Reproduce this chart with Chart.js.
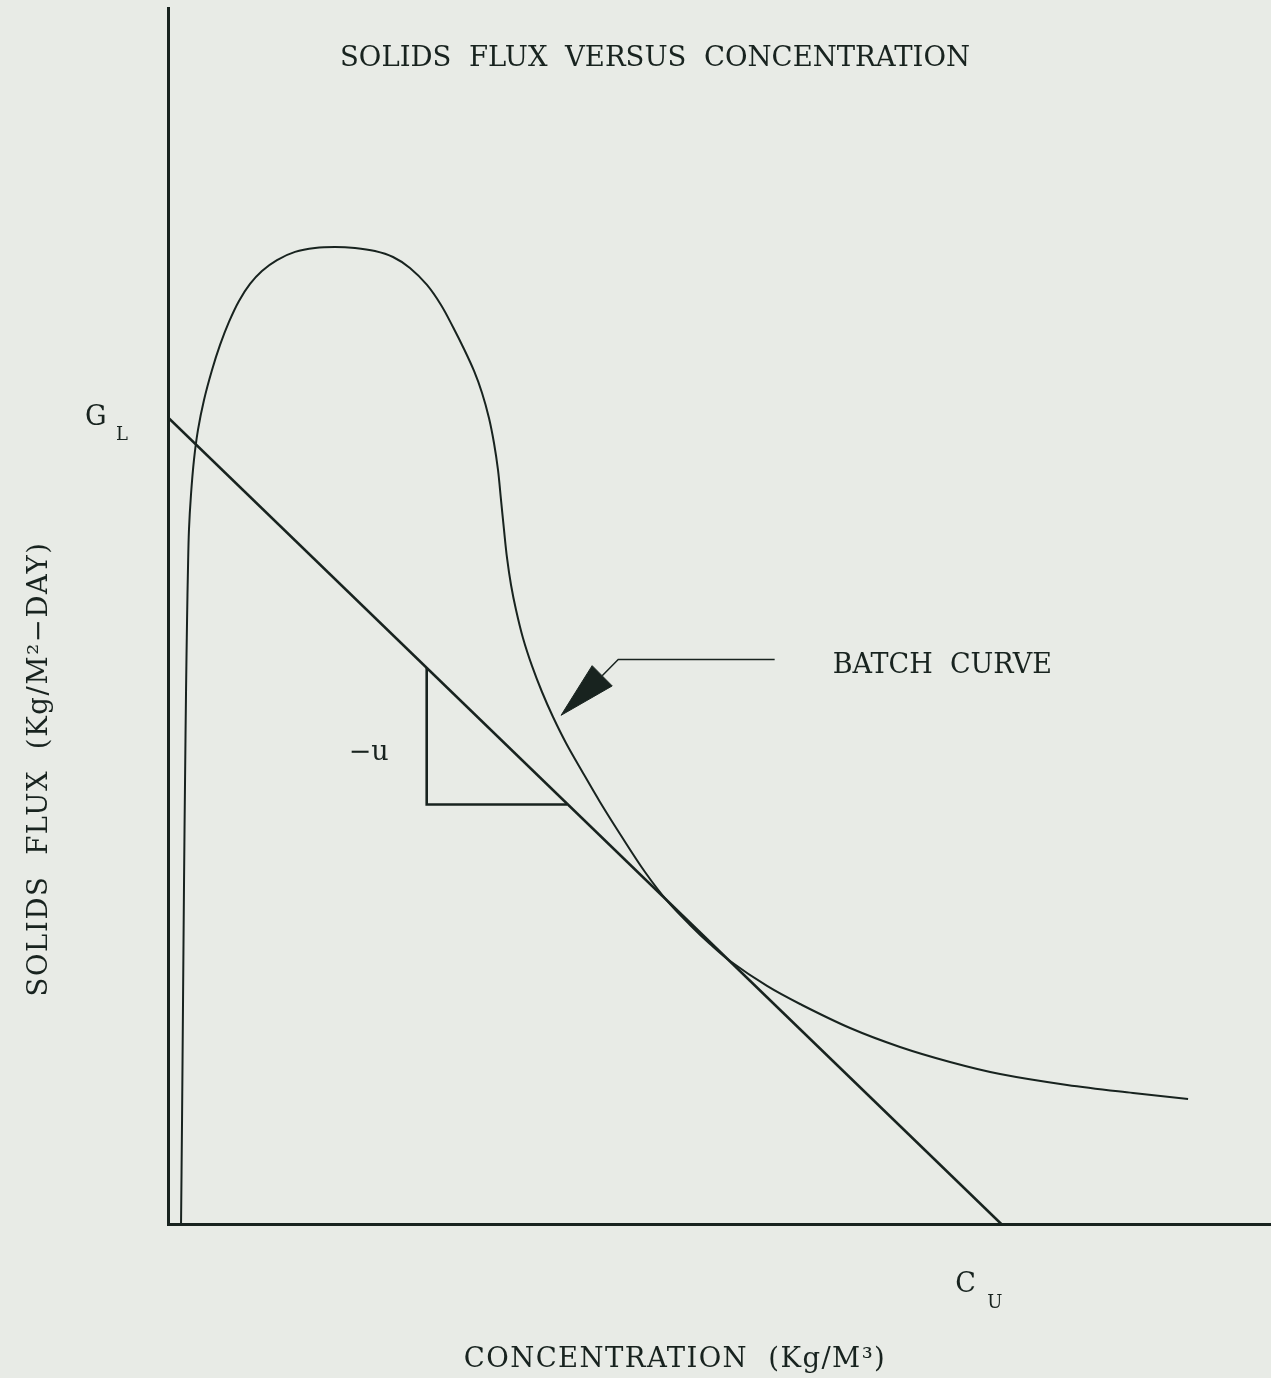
<!DOCTYPE html>
<html>
<head>
<meta charset="utf-8">
<script src="https://cdn.jsdelivr.net/npm/chart.js@4.4.0/dist/chart.umd.min.js"></script>
<style>
  html, body { margin: 0; padding: 0; background: #e8ebe6; }
  #wrap { width: 1271px; height: 1378px; }
</style>
</head>
<body>
<div id="wrap"><canvas id="fluxChart"></canvas></div>
<script>
// batch settling curve (concentration, solids flux)
const concentration = [0.130, 0.140, 0.150, 0.160, 0.170, 0.180, 0.190, 0.199, 0.209, 0.229, 0.259, 0.299, 0.359, 0.439, 0.519, 0.608, 0.708, 0.818, 0.937, 1.087, 1.267, 1.466, 1.666, 1.865, 2.064, 2.244, 2.413, 2.583, 2.723, 2.842, 2.952, 3.052, 3.132, 3.201, 3.251, 3.291, 3.321, 3.351, 3.381, 3.421, 3.471, 3.540, 3.630, 3.730, 3.840, 3.969, 4.139, 4.308, 4.508, 4.757, 4.987, 5.206, 5.405, 5.605, 5.974, 6.303, 6.802, 7.300, 7.799, 8.298, 8.966, 9.624, 10.173];
const batchFlux     = [0.000, 1.026, 2.211, 3.395, 4.382, 5.270, 5.961, 6.454, 6.849, 7.194, 7.540, 7.836, 8.132, 8.428, 8.675, 8.902, 9.109, 9.277, 9.405, 9.513, 9.593, 9.632, 9.642, 9.632, 9.602, 9.543, 9.435, 9.267, 9.069, 8.852, 8.635, 8.418, 8.201, 7.954, 7.707, 7.441, 7.145, 6.849, 6.573, 6.306, 6.059, 5.783, 5.507, 5.250, 5.003, 4.747, 4.451, 4.165, 3.849, 3.474, 3.178, 2.951, 2.763, 2.595, 2.349, 2.171, 1.934, 1.747, 1.599, 1.480, 1.372, 1.293, 1.234];

// underflow operating line from G_L to C_U
const lineConc = [0, 8.31];
const lineFlux = [7.96, 0];

// slope triangle (-u)
const triConc = [2.58, 2.58, 3.98];
const triFlux = [5.49, 4.14, 4.14];

// leader arrow to the batch curve
const leaderConc = [6.05, 4.49, 4.33];
const leaderFlux = [5.57, 5.57, 5.41];
const headConc = [4.23, 4.43, 3.92, 4.23];
const headFlux = [5.51, 5.31, 5.02, 5.51];

const ink = '#18231f';
const serif = '"DejaVu Serif", "Liberation Serif", serif';

function pts(xs, ys) {
    return xs.map(function (x, i) { return { x: x, y: ys[i] }; });
}

// all the lettering of the sheet
const labelsPlugin = {
    id: 'sheetLabels',
    afterDraw: function (chart) {
        const ctx = chart.ctx;
        const xs = chart.scales.x, ys = chart.scales.y;
        ctx.save();
        ctx.fillStyle = ink;
        ctx.textBaseline = 'alphabetic';

        ctx.font = '27.5px ' + serif;
        ctx.textAlign = 'center';
        ctx.fillText('SOLIDS  FLUX  VERSUS  CONCENTRATION', 655, 66);

        ctx.letterSpacing = '1.4px';
        ctx.fillText('CONCENTRATION  (Kg/M\u00b3)', 675, 1367);

        ctx.save();
        ctx.translate(47, 769);
        ctx.rotate(-Math.PI / 2);
        ctx.letterSpacing = '1.6px';
        ctx.fillText('SOLIDS  FLUX  (Kg/M\u00b2\u2212DAY)', 0, 0);
        ctx.restore();
        ctx.letterSpacing = '0px';

        ctx.font = '27px ' + serif;
        ctx.textAlign = 'left';
        ctx.fillText('BATCH  CURVE', xs.getPixelForValue(leaderConc[0]) + 58, ys.getPixelForValue(leaderFlux[0]) + 13);
        ctx.fillText('\u2212u', xs.getPixelForValue(triConc[0]) - 78, ys.getPixelForValue((triFlux[0] + triFlux[1]) / 2) + 24);

        // G_L at the flux intercept, C_U at the concentration intercept
        const gy = ys.getPixelForValue(lineFlux[0]);
        ctx.fillText('G', 85, gy + 8);
        ctx.font = '18px ' + serif;
        ctx.fillText('L', 116, gy + 23);

        const cx = xs.getPixelForValue(lineConc[1]);
        ctx.font = '27px ' + serif;
        ctx.fillText('C', cx - 46, 1292);
        ctx.font = '18px ' + serif;
        ctx.fillText('U', cx - 14, 1308);
        ctx.restore();
    }
};

new Chart(document.getElementById('fluxChart').getContext('2d'), {
    type: 'scatter',
    data: {
        datasets: [
            {
                label: 'Batch curve',
                data: pts(concentration, batchFlux),
                showLine: true,
                borderColor: ink,
                borderWidth: 2,
                pointRadius: 0,
                tension: 0.35,
                clip: false
            },
            {
                label: 'Operating line',
                data: pts(lineConc, lineFlux),
                showLine: true,
                borderColor: ink,
                borderWidth: 2.6,
                pointRadius: 0
            },
            {
                label: 'Slope',
                data: pts(triConc, triFlux),
                showLine: true,
                borderColor: ink,
                borderWidth: 2.6,
                pointRadius: 0
            },
            {
                label: 'Leader',
                data: pts(leaderConc, leaderFlux),
                showLine: true,
                borderColor: ink,
                borderWidth: 1.5,
                pointRadius: 0
            },
            {
                label: 'Arrow head',
                data: pts(headConc, headFlux),
                showLine: true,
                borderColor: ink,
                backgroundColor: ink,
                borderWidth: 1,
                pointRadius: 0,
                fill: 'shape'
            }
        ]
    },
    options: {
        responsive: true,
        maintainAspectRatio: false,
        animation: false,
        events: [],
        layout: { padding: { left: 168, top: 8, right: 0, bottom: 154 } },
        plugins: {
            legend: { display: false },
            tooltip: { enabled: false },
            title: { display: false }
        },
        scales: {
            x: {
                type: 'linear',
                min: 0,
                max: 11,
                grid: { display: false },
                ticks: { display: false },
                border: { display: true, color: ink, width: 3 },
                afterFit: function (scale) { scale.height = 0; }
            },
            y: {
                type: 'linear',
                min: 0,
                max: 12,
                grid: { display: false },
                ticks: { display: false },
                border: { display: true, color: ink, width: 3 },
                afterFit: function (scale) { scale.width = 0; }
            }
        }
    },
    plugins: [labelsPlugin]
});
</script>
</body>
</html>
